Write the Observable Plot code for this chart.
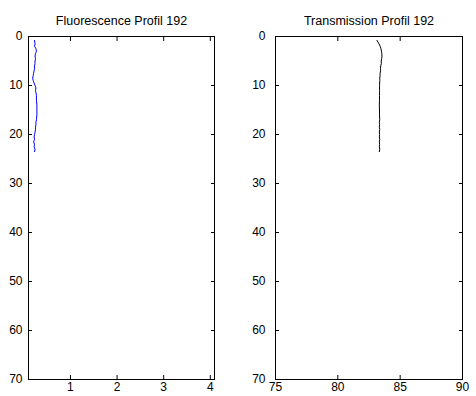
<!DOCTYPE html>
<html><head><meta charset="utf-8">
<script src="https://cdn.jsdelivr.net/npm/d3@7"></script>
<script src="https://cdn.jsdelivr.net/npm/@observablehq/plot@0.6"></script>
<style>
body{margin:0;background:#fff;}
#wrap{position:relative;width:476px;height:396px;overflow:hidden;}
.panel{position:absolute;top:0;}
</style></head><body><div id="wrap"></div>
<script>
const titles = ["Fluorescence Profil 192", "Transmission Profil 192"];
const depths = [0.8,1.5,2,2.5,3,3.5,4,4.5,5,5.5,6,6.5,7,7.5,8,8.5,9,9.5,10,10.5,11,11.5,12,13,14,15,16,17,17.5,18,18.5,19,19.5,20,20.5,21,21.5,22,22.5,23,23.5];
const fluorescence = [0.23,0.24,0.23,0.26,0.27,0.25,0.24,0.25,0.24,0.24,0.23,0.23,0.22,0.21,0.20,0.19,0.20,0.22,0.24,0.26,0.25,0.26,0.27,0.27,0.28,0.28,0.28,0.27,0.26,0.26,0.25,0.25,0.24,0.23,0.22,0.23,0.21,0.23,0.22,0.24,0.23];
const transmission = [83.14,83.3,83.4,83.46,83.5,83.53,83.54,83.52,83.48,83.49,83.44,83.42,83.43,83.39,83.39,83.36,83.37,83.35,83.35,83.34,83.35,83.34,83.34,83.34,83.33,83.34,83.34,83.36,83.33,83.35,83.33,83.36,83.33,83.35,83.33,83.36,83.33,83.35,83.33,83.36,83.33];
const depthTicks = [0,10,20,30,40,50,60,70];
const fluoTicks = [1,2,3,4];
const transTicks = [75,80,85,90];

function panel({title, values, color, xDomain, xTicks, width, ml, mr, yPad}) {
  const data = depths.map((d, i) => ({depth: d, v: values[i]}));
  const font = {fontSize: 12};
  return Plot.plot({
    width, height: 396,
    marginLeft: ml, marginRight: mr, marginTop: 36, marginBottom: 17,
    style: {fontFamily: "'Liberation Sans', Arial, sans-serif", fontSize: "12px", color: "#000", background: "#fff"},
    x: {domain: xDomain},
    y: {domain: [0, 70], reverse: true},
    marks: [
      Plot.frame({stroke: "#000", strokeWidth: 1}),
      Plot.axisX(xTicks, {anchor: "bottom", tickSize: 0, tickPadding: 3, label: null, ...font}),
      Plot.axisX(xTicks, {anchor: "bottom", tickSize: -4, tickFormat: () => "", label: null}),
      Plot.axisX(xTicks, {anchor: "top", tickSize: -4, tickFormat: () => "", label: null}),
      Plot.axisY(depthTicks, {anchor: "left", tickSize: 0, tickPadding: yPad, label: null, ...font}),
      Plot.axisY(depthTicks, {anchor: "left", tickSize: -4, tickFormat: () => "", label: null}),
      Plot.axisY(depthTicks, {anchor: "right", tickSize: -4, tickFormat: () => "", label: null}),
      Plot.line(data, {x: "v", y: "depth", stroke: color, strokeWidth: 1}),
      Plot.text([title], {frameAnchor: "top", dy: -16, text: d => d, fontSize: 12.5, fill: "#000", lineAnchor: "middle"})
    ]
  });
}

const wrap = document.getElementById("wrap");
const p1 = panel({title: titles[0], values: fluorescence, color: "#0000ff", xDomain: [0.1, 4.09], xTicks: fluoTicks, width: 240, ml: 28, mr: 26, yPad: 6});
p1.classList.add("panel"); p1.style.left = "0px";
const p2 = panel({title: titles[1], values: transmission, color: "#000000", xDomain: [75, 90], xTicks: transTicks, width: 236, ml: 35, mr: 14, yPad: 10});
p2.classList.add("panel"); p2.style.left = "240px";
wrap.appendChild(p1); wrap.appendChild(p2);
</script></body></html>
